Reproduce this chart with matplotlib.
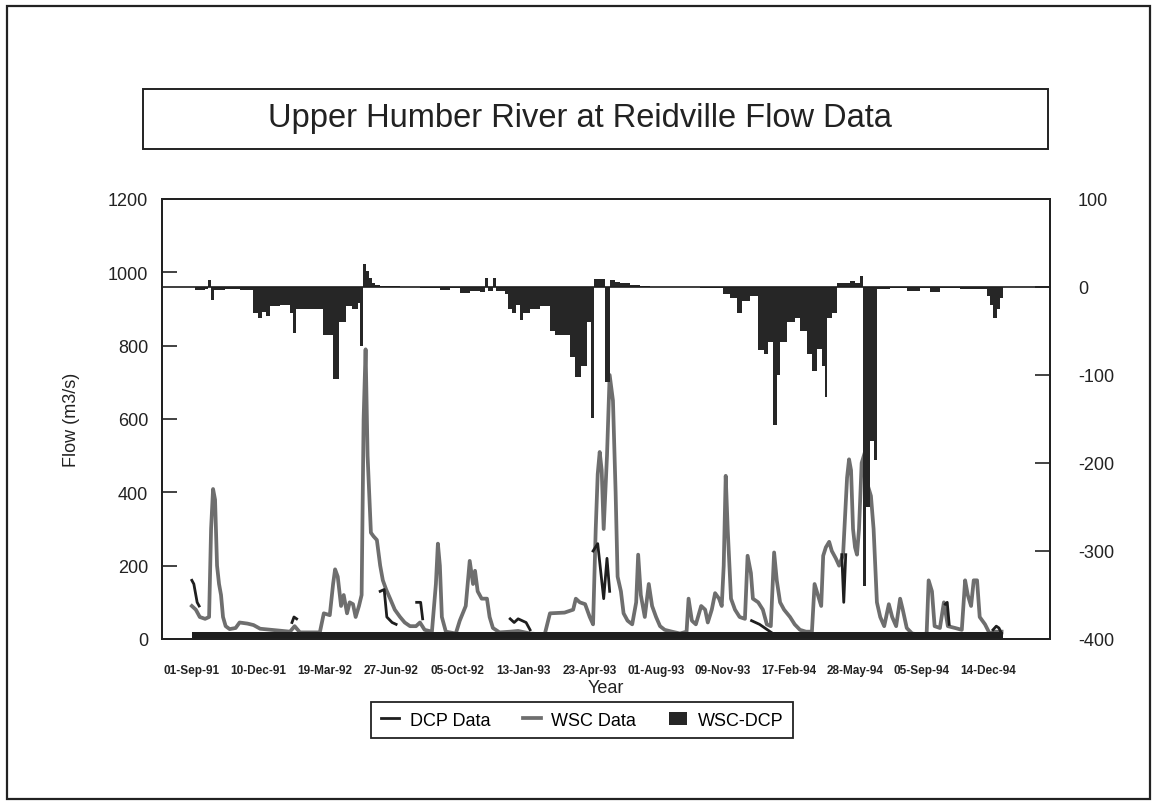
import numpy as np
import pandas as pd
import matplotlib
matplotlib.use("Agg")
import matplotlib.pyplot as plt
from matplotlib.patches import Rectangle

plt.rcParams['font.family'] = ['Liberation Sans', 'DejaVu Sans']
plt.rcParams['axes.unicode_minus'] = False

# days counted from 01-Sep-91
wsc_day = [0, 6, 12, 20, 26, 29, 32, 35, 38, 41,
           44, 47, 51, 57, 66, 72, 84, 93, 103, 125,
           148, 155, 163, 193, 199, 208, 213, 216, 220, 225,
           229, 234, 238, 243, 247, 252, 256, 259, 262, 265,
           270, 274, 279, 284, 288, 293, 299, 306, 314, 321,
           329, 338, 344, 351, 362, 368, 371, 374, 377, 383,
           398, 404, 413, 419, 424, 427, 431, 437, 445, 449,
           454, 464, 480, 492, 510, 532, 540, 562, 575, 579,
           585, 593, 600, 605, 609, 612, 615, 618, 621, 626,
           630, 635, 639, 642, 647, 651, 657, 664, 670, 673,
           677, 683, 689, 694, 700, 706, 713, 724, 736, 746,
           749, 754, 760, 768, 774, 778, 784, 789, 795, 799,
           802, 805, 808, 813, 819, 826, 834, 838, 843, 846,
           854, 861, 867, 873, 878, 882, 887, 893, 902, 909,
           917, 926, 935, 939, 944, 949, 952, 956, 961, 965,
           971, 976, 982, 988, 991, 994, 997, 1000, 1003, 1006,
           1010, 1015, 1019, 1024, 1028, 1033, 1038, 1044, 1051, 1056,
           1062, 1068, 1072, 1078, 1086, 1098, 1108, 1111, 1116, 1120,
           1128, 1134, 1140, 1151, 1161, 1166, 1170, 1175, 1179, 1184,
           1188, 1196, 1203, 1211, 1221]
wsc_flow = [90, 80, 60, 55, 60, 300, 409, 380, 200, 150,
            120, 60, 35, 27, 30, 45, 42, 38, 28, 24,
            20, 35, 18, 18, 70, 65, 150, 190, 170, 90,
            120, 70, 100, 95, 60, 90, 120, 600, 790, 500,
            290, 280, 270, 200, 160, 135, 110, 80, 60, 45,
            35, 35, 45, 25, 20, 150, 260, 200, 60, 20,
            15, 50, 90, 213, 150, 186, 130, 110, 110, 60,
            30, 18, 20, 22, 15, 12, 70, 72, 80, 110,
            100, 95, 60, 40, 300, 450, 510, 460, 300, 500,
            720, 650, 400, 170, 130, 70, 50, 40, 100, 230,
            120, 60, 150, 90, 60, 35, 25, 20, 15, 20,
            110, 50, 40, 90, 80, 45, 80, 125, 110, 90,
            200, 445, 300, 110, 80, 60, 55, 227, 180, 110,
            100, 80, 40, 35, 236, 160, 100, 80, 60, 40,
            25, 20, 20, 150, 120, 90, 227, 250, 265, 240,
            220, 200, 230, 440, 490, 460, 300, 250, 230, 300,
            480, 510, 420, 390, 300, 100, 60, 35, 95, 60,
            35, 110, 80, 30, 15, 12, 15, 160, 130, 35,
            30, 100, 35, 30, 25, 160, 120, 90, 160, 160,
            60, 40, 15, 20, 20]

# DCP only where it shows apart from WSC (nan = gap)
nan = np.nan
dcp_day = [0, 3, 8, 11, 12, 151, 154, 158, 159, 284, 290, 294, 302, 308, 309,
           339, 345, 348, 349, 480, 486, 492, 498, 504, 510, 511,
           605, 612, 621, 626, 630, 631, 844, 856, 868, 876, 877,
           980, 983, 986, 987, 1136, 1139, 1142, 1143, 1208, 1213, 1217, 1221]
dcp_flow = [160, 150, 100, 90, nan, 45, 60, 55, nan, 130, 135, 60, 45, 40, nan,
            100, 100, 55, nan, 55, 45, 55, 50, 45, 25, nan,
            240, 260, 110, 220, 130, nan, 50, 40, 25, 15, nan,
            230, 100, 230, nan, 95, 100, 40, nan, 25, 35, 30, 15]
dcp_base_days = [0, 1223]
dcp_base = 20

diff_day = [0, 5, 20, 24, 29, 33, 50, 72, 92, 100,
            106, 112, 118, 133, 148, 152, 157, 178, 198, 213,
            222, 232, 241, 250, 253, 258, 262, 267, 271, 276,
            284, 314, 344, 374, 389, 404, 419, 434, 442, 446,
            454, 458, 472, 477, 483, 489, 495, 499, 510, 525,
            540, 547, 558, 570, 578, 587, 596, 602, 606, 615,
            623, 630, 638, 645, 660, 676, 691, 766, 801, 811,
            822, 829, 841, 854, 863, 869, 876, 882, 887, 897,
            909, 917, 927, 935, 943, 950, 955, 958, 965, 973,
            985, 992, 1000, 1007, 1012, 1016, 1022, 1028, 1033, 1038,
            1053, 1078, 1098, 1113, 1128, 1158, 1199, 1203, 1208, 1214,
            1218, 1223]
diff_val = [0, -3, -2, 8, -15, -3, -2, -3, -30, -35,
            -28, -33, -22, -20, -30, -52, -25, -25, -55, -105,
            -40, -22, -25, -18, -67, 26, 18, 10, 5, 2,
            1, 0, -1, -3, -1, -7, -5, -6, 10, -4,
            10, -5, -8, -25, -30, -20, -38, -30, -25, -22,
            -50, -55, -55, -80, -102, -90, -40, -149, 9, 9,
            -108, 8, 6, 4, 2, 1, 0, -1, -8, -12,
            -29, -16, -10, -72, -76, -62, -157, -100, -62, -40,
            -35, -50, -76, -95, -70, -90, -125, -35, -30, 5,
            4, 7, 5, 12, -340, -250, -175, -197, -2, -2,
            -1, -4, -1, -6, -1, -2, -10, -20, -35, -25,
            -12, 0]

tick_dates = pd.date_range('1991-09-01', periods=13, freq='100D')
tick_days = (tick_dates - tick_dates[0]).days
tick_labels = tick_dates.strftime('%d-%b-%y')

W, H = 1157, 804
fig = plt.figure(figsize=(W / 100, H / 100), dpi=100)

# outer frame and title box
fig.patches.append(Rectangle((7 / W, 1 - 800 / H), 1143 / W, 793 / H, transform=fig.transFigure,
                             fill=False, edgecolor='#222222', linewidth=1.6))
fig.patches.append(Rectangle((143 / W, 1 - 150 / H), 905 / W, 60 / H, transform=fig.transFigure,
                             fill=False, edgecolor='#222222', linewidth=1.4))
fig.text(580 / W, 1 - 119 / H, 'Upper Humber River at Reidville Flow Data',
         ha='center', va='center', fontsize=23.5, color='#222222')

ax = fig.add_axes([162 / W, 1 - 640 / H, 888 / W, 440 / H])
ax2 = ax.twinx()

l_wsc, = ax.plot(wsc_day, wsc_flow, color='#6e6e6e', linewidth=2.7, zorder=2, label='WSC Data')
l_dcp, = ax.plot(dcp_day, dcp_flow, color='#1e1e1e', linewidth=2.0, zorder=3, label='DCP Data')
ax.fill_between(dcp_base_days, 0, dcp_base, color='#1e1e1e', linewidth=0, zorder=4)

widths = np.append(np.diff(diff_day), 1)
bars = ax2.bar(diff_day, diff_val, width=widths, align='edge', color='#262626',
               linewidth=0, label='WSC-DCP')
ax2.axhline(0, color='#1e1e1e', linewidth=1.2)

ax.set_xlim(-45, 1294)
ax.set_ylim(0, 1200)
ax2.set_ylim(-400, 100)
ax.set_yticks(range(0, 1201, 200))
ax2.set_yticks(range(-400, 101, 100))
ax.set_xticks(tick_days)
ax.set_xticklabels(tick_labels, fontsize=8.5, fontweight='bold', color='#222222')

ax.tick_params(axis='x', length=0, pad=18)
ax.tick_params(axis='y', direction='in', length=11, width=1.2, labelsize=13, pad=10,
               colors='#222222')
ax2.tick_params(axis='y', direction='in', length=11, width=1.2, labelsize=13, pad=20,
                colors='#222222')
for a in (ax, ax2):
    for s in a.spines.values():
        s.set_linewidth(1.4)
        s.set_color('#222222')

ax.set_xlabel('Year', fontsize=13, labelpad=2, color='#222222')
ax.set_ylabel('Flow (m3/s)', fontsize=13, labelpad=20, color='#222222')

leg = fig.legend(handles=[l_dcp, l_wsc, bars], labels=['DCP Data', 'WSC Data', 'WSC-DCP'],
                 loc='center', bbox_to_anchor=(582 / W, 1 - 721 / H), ncol=3, fontsize=13,
                 frameon=True, fancybox=False, edgecolor='#222222', framealpha=1,
                 handlelength=1.0, handletextpad=0.6, columnspacing=1.8, borderpad=0.55)
leg.get_frame().set_linewidth(1.3)

fig.savefig('out.png', dpi=100)
